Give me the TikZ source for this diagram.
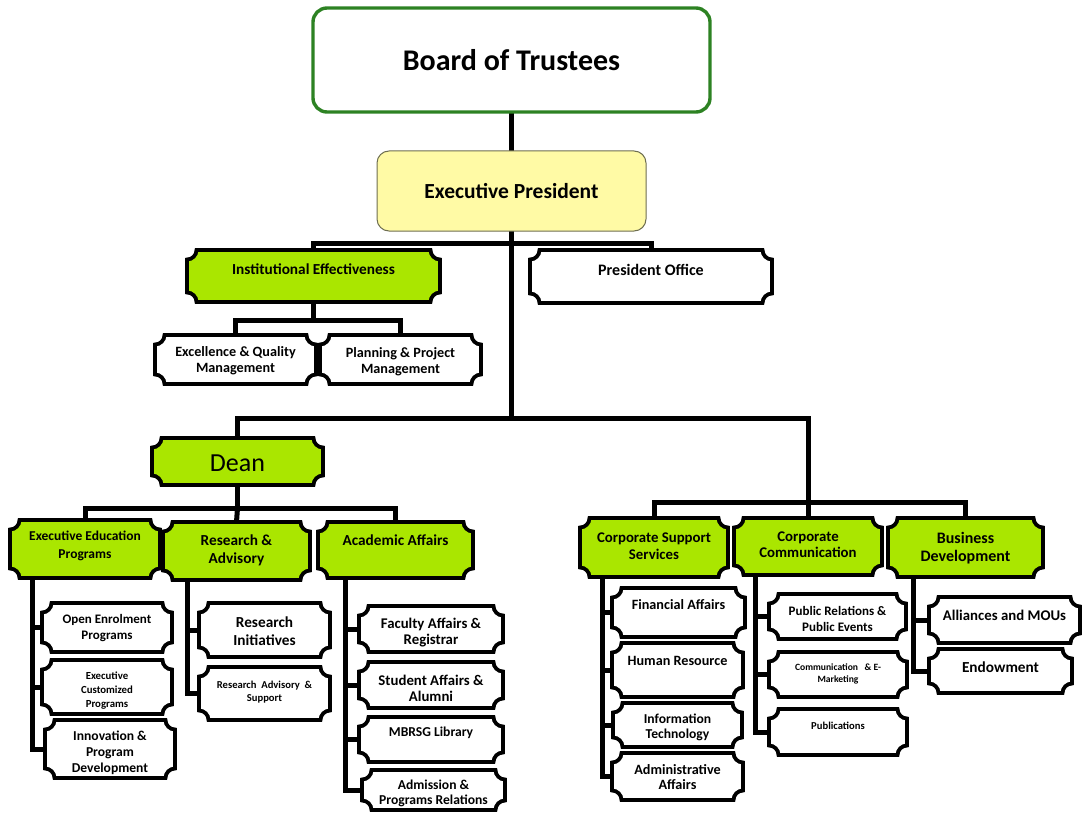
\documentclass[tikz,border=0pt]{standalone}
\usepackage{fontspec}
\setmainfont{Carlito}
\usetikzlibrary{calc,backgrounds}
\definecolor{lgreen}{RGB}{170,230,0}
\definecolor{bgreen}{RGB}{45,130,35}
\definecolor{lyellow}{RGB}{255,250,165}
\definecolor{ybord}{RGB}{110,110,80}
\newcommand\fs[2]{\fontsize{#1}{#2}\selectfont\bfseries}
\newcommand\rr{9.5pt}
\tikzset{
  conn/.style={line width=5pt, black},
  plqline/.style={line width=3.8pt, black, line join=miter},
  bn/.style={inner sep=0pt, outer sep=0pt},
  tx/.style={inner sep=0pt, align=center},
}
\newcommand\plaque[6]{%
  \node[bn, minimum width={(#5-#3)*1pt}, minimum height={(#6-#4)*1pt}] (#1) at ({(#3+#5)/2},{(#4+#6)/2}) {};
  \draw[plqline, fill=#2] let \p1=(#1.south west), \p2=(#1.north east) in
    (\x1+\rr,\y1) -- (\x2-\rr,\y1) arc[start angle=180,end angle=90,radius=\rr]
    -- (\x2,\y2-\rr) arc[start angle=270,end angle=180,radius=\rr]
    -- (\x1+\rr,\y2) arc[start angle=360,end angle=270,radius=\rr]
    -- (\x1,\y1+\rr) arc[start angle=90,end angle=0,radius=\rr] -- cycle;
}
\begin{document}
\begin{tikzpicture}[x=1pt,y=-1pt]
\useasboundingbox (0,0) rectangle (1083,813);
% top
\node[bn, draw=bgreen, line width=3.4pt, rounded corners=14pt, fill=white,
  minimum width=397pt, minimum height=104pt, font=\fs{30}{34}] (board) at (511.5,60) {Board of Trustees};
\node[bn, draw=ybord, line width=1pt, rounded corners=12pt, fill=lyellow,
  minimum width=269pt, minimum height=80pt, font=\fs{21.5}{25}] (exec) at (511.5,191) {Executive President};
% second level
\plaque{inst}{lgreen}{187}{250}{440}{302}
\node[tx, font=\fs{15.3}{18}] (inst-t) at (313.5,269) {Institutional Effectiveness};
\plaque{pres}{white}{530}{250}{772}{303}
\node[tx, font=\fs{16}{19}] (pres-t) at (651,270) {President Office};
\plaque{exq}{white}{155}{335}{316}{384}
\node[tx, font=\fs{14.2}{16}] (exq-t) at (235.5,361) {Excellence \& Quality\\Management};
\plaque{ppm}{white}{320}{335}{481}{384}
\node[tx, font=\fs{14.2}{16}] (ppm-t) at (400.5,362) {Planning \& Project\\Management};
% dean
\plaque{dean}{lgreen}{152}{438}{323}{485}
\node[tx, font=\fontsize{26}{30}\selectfont] (dean-t) at (237.5,463) {Dean};
\plaque{eep}{lgreen}{10}{520}{160}{578}
\node[tx, font=\fs{13.5}{18}] (eep-t) at (85,546) {Executive Education\\Programs};
\plaque{rna}{lgreen}{163}{522}{310}{580}
\node[tx, font=\fs{15.3}{18}] (rna-t) at (236.5,550) {Research \&\\Advisory};
\plaque{aca}{lgreen}{318}{522}{473}{578}
\node[tx, font=\fs{15.3}{18}] (aca-t) at (395.5,540) {Academic Affairs};
% exec ed children
\plaque{oep}{white}{42}{603}{172}{652}
\node[tx, font=\fs{13}{16}] (oep-t) at (107,628) {Open Enrolment\\Programs};
\plaque{ecp}{white}{42}{660}{172}{714}
\node[tx, font=\fs{10.8}{14}] (ecp-t) at (107,691) {Executive\\Customized\\Programs};
\plaque{ipd}{white}{45}{720}{175}{778}
\node[tx, font=\fs{13.6}{16}] (ipd-t) at (110,753) {Innovation \&\\Program\\Development};
% research children
\plaque{rin}{white}{199}{603}{330}{657}
\node[tx, font=\fs{15.3}{18}] (rin-t) at (264.5,631) {Research\\Initiatives};
\plaque{ras}{white}{199}{667}{330}{720}
\node[tx, font=\fs{10.6}{13}] (ras-t) at (264.5,692) {Research~ Advisory~ \&\\Support};
% academic children
\plaque{far}{white}{359}{606}{503}{652}
\node[tx, font=\fs{14.8}{16}] (far-t) at (431,633) {Faculty Affairs \&\\Registrar};
\plaque{saa}{white}{359}{662}{503}{708}
\node[tx, font=\fs{14.8}{16}] (saa-t) at (431,688) {Student Affairs \&\\Alumni};
\plaque{lib}{white}{359}{717}{503}{762}
\node[tx, font=\fs{13.6}{15}] (lib-t) at (431,733) {MBRSG Library};
\plaque{apr}{white}{362}{770}{505}{810}
\node[tx, font=\fs{13.6}{15}] (apr-t) at (433.5,793) {Admission \&\\Programs Relations};
% right group
\plaque{css}{lgreen}{580}{518}{728}{577}
\node[tx, font=\fs{14.8}{17}] (css-t) at (654,546) {Corporate Support\\Services};
\plaque{ccm}{lgreen}{734}{518}{882}{575}
\node[tx, font=\fs{14.8}{16}] (ccm-t) at (808,545) {Corporate\\Communication};
\plaque{bdv}{lgreen}{888}{518}{1043}{577}
\node[tx, font=\fs{16}{18}] (bdv-t) at (965.5,548) {Business\\Development};
% css children
\plaque{fin}{white}{612}{588}{745}{637}
\node[tx, font=\fs{14.2}{15}] (fin-t) at (678.5,605) {Financial Affairs};
\plaque{hr}{white}{612}{643}{743}{697}
\node[tx, font=\fs{14.2}{15}] (hr-t) at (677.5,661) {Human Resource};
\plaque{it}{white}{613}{703}{742}{747}
\node[tx, font=\fs{13.6}{15}] (it-t) at (677.5,727) {Information\\Technology};
\plaque{adm}{white}{612}{753}{743}{800}
\node[tx, font=\fs{14.2}{15}] (adm-t) at (677.5,777) {Administrative\\Affairs};
% ccm children
\plaque{pre}{white}{769}{594}{906}{639}
\node[tx, font=\fs{13}{16}] (pre-t) at (837.5,619) {Public Relations \&\\Public Events};
\plaque{cem}{white}{769}{652}{907}{697}
\node[tx, font=\fs{9.6}{12}] (cem-t) at (838,674) {Communication~~ \& E-\\Marketing};
\plaque{pub}{white}{769}{709}{907}{755}
\node[tx, font=\fs{10.6}{12}] (pub-t) at (838,726) {Publications};
% bdv children
\plaque{all}{white}{929}{597}{1080}{643}
\node[tx, font=\fs{14.8}{16}] (all-t) at (1004.5,615) {Alliances and MOUs};
\plaque{end}{white}{929}{649}{1072}{693}
\node[tx, font=\fs{15.3}{16}] (end-t) at (1000.5,667) {Endowment};
% connectors
\begin{scope}[on background layer]
\coordinate (j1) at (511.5,243);
\coordinate (j2) at (511.5,418);
\coordinate (j3) at (808,502);
\coordinate (j4) at (237.5,508);
\coordinate (j5) at (313.5,320);
\draw[conn] (board.south) -- (exec.north);
\draw[conn] (exec.south) -- (j2);
\draw[conn] (inst.north) |- (j1) -| (pres.north);
\draw[conn] (inst.south) -- (j5);
\draw[conn] (exq.north) |- (j5) -| (ppm.north);
\draw[conn] (dean.north) |- (j2) -| (j3);
\draw[conn] (css.north) |- (j3) -| (bdv.north);
\draw[conn] (j3) -- (ccm.north);
\draw[conn] (dean.south) -- (j4);
\draw[conn] (eep.north) |- (j4) -| (aca.north);
\draw[conn] (j4) -- (rna.north);
\coordinate (v1) at ([xshift=22pt]eep.south west);
\coordinate (v2) at ([xshift=24pt]rna.south west);
\coordinate (v3) at ([xshift=27pt]aca.south west);
\coordinate (v4) at ([xshift=22pt]css.south west);
\coordinate (v5) at ([xshift=21pt]ccm.south west);
\coordinate (v6) at ([xshift=25pt]bdv.south west);
\foreach \c in {oep,ecp,ipd} \draw[conn] (v1) |- (\c.west);
\foreach \c in {rin,ras} \draw[conn] (v2) |- (\c.west);
\foreach \c in {far,saa,lib,apr} \draw[conn] (v3) |- (\c.west);
\foreach \c in {fin,hr,it,adm} \draw[conn] (v4) |- (\c.west);
\foreach \c in {pre,cem,pub} \draw[conn] (v5) |- (\c.west);
\foreach \c in {all,end} \draw[conn] (v6) |- (\c.west);
\end{scope}
\end{tikzpicture}
\end{document}
